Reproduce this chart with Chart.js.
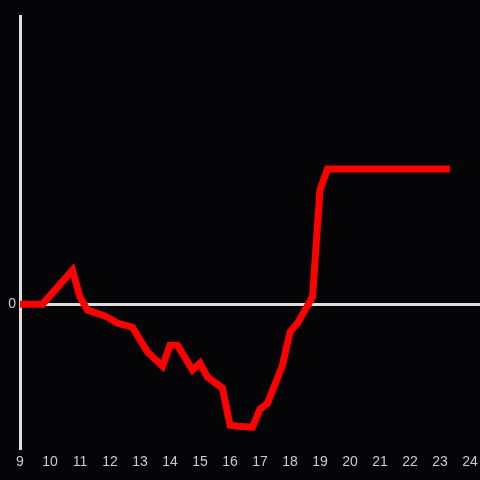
<!DOCTYPE html>
<html>
<head>
<meta charset="utf-8">
<script src="https://cdn.jsdelivr.net/npm/chart.js@4.4.1/dist/chart.umd.min.js"></script>
<style>
html,body{margin:0;padding:0;background:#050507;}
#wrap{width:480px;height:480px;}
</style>
</head>
<body>
<div id="wrap"><canvas id="c" width="480" height="480"></canvas></div>
<script>
// Hours of day (x) and series values (y)
const hours = [9.0, 9.75, 10.75, 11.0, 11.25, 11.85, 12.25, 12.75, 13.25, 13.75, 14.0, 14.25, 14.75, 15.0, 15.25, 15.75, 16.0, 16.25, 16.75, 17.0, 17.25, 17.75, 18.0, 18.25, 18.75, 19.0, 19.25, 23.33];
const values = [0, 0, 23.6, 4.9, -4.2, -8.3, -13.2, -16, -33.3, -43, -28.5, -28.5, -45.8, -41, -50.7, -58.3, -84, -84.7, -85.4, -72.9, -68.8, -42.4, -19.4, -13.2, 4.9, 79.2, 93.8, 93.8];
const xTicks = [9, 10, 11, 12, 13, 14, 15, 16, 17, 18, 19, 20, 21, 22, 23, 24];
const yTickLabels = [0];

const points = hours.map((h, i) => ({x: h, y: values[i]}));

const bgPlugin = {
  id: 'bg',
  beforeDraw(chart) {
    const ctx = chart.ctx;
    ctx.save();
    ctx.fillStyle = '#050507';
    ctx.fillRect(0, 0, chart.width, chart.height);
    ctx.restore();
  }
};

new Chart(document.getElementById('c'), {
  type: 'line',
  data: {
    datasets: [{
      data: points,
      borderColor: '#ff0000',
      borderWidth: 7,
      pointRadius: 0,
      tension: 0,
      fill: false
    }]
  },
  options: {
    responsive: false,
    animation: false,
    layout: {padding: {top: 16, right: 0, bottom: 3, left: 0}},
    plugins: {legend: {display: false}, tooltip: {enabled: false}},
    scales: {
      x: {
        type: 'linear',
        min: 9,
        max: 9 + 460 / 30,
        afterBuildTicks: s => { s.ticks = xTicks.map(v => ({value: v})); },
        afterFit: s => { s.paddingRight = 0; s.paddingLeft = 0; },
        ticks: {
          color: '#cccccc',
          font: {family: 'Liberation Sans', size: 14},
          padding: 6,
          maxRotation: 0,
          autoSkip: false,
          includeBounds: false
        },
        grid: {display: false, drawTicks: false},
        border: {display: false}
      },
      y: {
        min: -100,
        max: 200,
        afterBuildTicks: s => { s.ticks = [-100, 0, 100, 200].map(v => ({value: v})); },
        afterFit: s => { s.width = 20; },
        ticks: {
          color: '#cccccc',
          font: {family: 'Liberation Sans', size: 14},
          padding: 4,
          callback: v => yTickLabels.includes(v) ? String(v) : ''
        },
        grid: {
          drawTicks: false,
          color: c => (c.tick && c.tick.value === 0) ? '#dddddd' : 'rgba(0,0,0,0)',
          lineWidth: 3
        },
        border: {display: true, color: '#dddddd', width: 3}
      }
    }
  },
  plugins: [bgPlugin]
});
</script>
</body>
</html>
